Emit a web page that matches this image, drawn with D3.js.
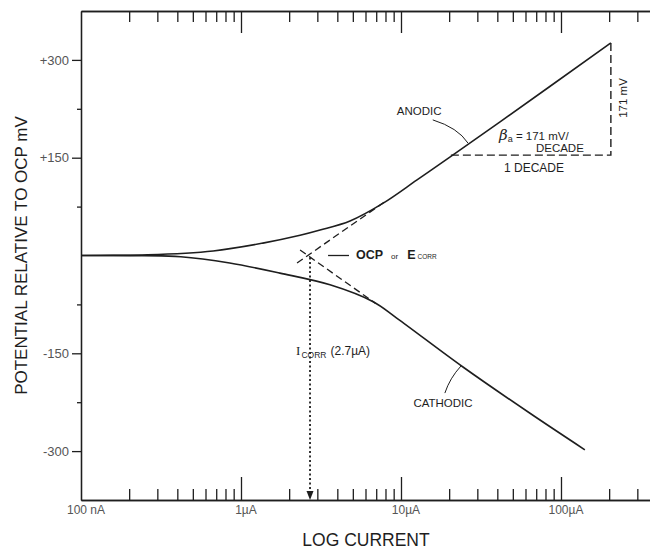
<!DOCTYPE html>
<html>
<head>
<meta charset="utf-8">
<script src="https://cdn.jsdelivr.net/npm/d3@7"></script>
<style>
  body { margin: 0; background: #fff; }
  svg { display: block; font-family: "Liberation Sans", Arial, sans-serif; }
</style>
</head>
<body>
<script>
// Values (current in A, potential in mV vs OCP).
const anodicI = [1e-7, 2.6e-7, 6.7e-7, 1.37e-6, 2.34e-6, 3.12e-6, 4.8e-6, 7.7e-6, 1.26e-5, 2.02e-5, 4.16e-5, 2.05e-4];
const anodicE = [0, 1, 7, 19, 31, 39, 53, 80, 116, 151, 205, 326];
const cathodicI = [1e-7, 4.2e-7, 8.5e-7, 1.75e-6, 3.6e-6, 6.7e-6, 9.4e-6, 2.44e-5, 6.4e-5, 1.41e-4];
const cathodicE = [0, -2, -11.5, -27, -45, -71, -96, -171, -242, -298];
// Tafel extrapolations (dashed) back to the crossing point.
const anodicTafelI = [2.24e-6, 8.2e-6];
const anodicTafelE = [-11.5, 85];
const cathodicTafelI = [2.34e-6, 6.9e-6];
const cathodicTafelE = [8.4, -73];
const icorr = 2.7e-6;
// One-decade slope triangle.
const decadeI = [2.05e-5, 2.05e-4];
const decadeE = [154, 326];
// Axis ticks.
const majorCurrents = [1e-7, 1e-6, 1e-5, 1e-4];
const currentLabels = ["100 nA", "1\u00b5A", "10\u00b5A", "100\u00b5A"];
const majorPotentials = [-300, -150, 150, 300];
const minorPotentials = [-225, -75, 75, 225];
const potentialLabels = ["-300", "-150", "+150", "+300"];

const width = 650, height = 549;
const ink = "#1e1e1e";
const gray = "#555";

const svg = d3.select("body").append("svg")
  .attr("width", width)
  .attr("height", height);

const x = d3.scaleLog().domain([1e-7, 3.6e-4]).range([81, 650]);
const y = d3.scaleLinear().domain([-375, 375]).range([500, 11]);

/**
 * Axes: frame lines come from the axis domains, ticks point inward on top/bottom.
 */
const allTicks = x.ticks();
const minorTicks = allTicks.filter(t => !majorCurrents.some(m => Math.abs(m - t) / m < 1e-6));

const drawAxis = function (axis, tx, ty) {
  const g = svg.append("g")
    .attr("transform", "translate(" + tx + "," + ty + ")")
    .call(axis);
  g.selectAll("path, line").attr("stroke", ink).attr("stroke-width", 1.3);
  return g;
};

// top
drawAxis(d3.axisBottom(x).tickValues(minorTicks).tickSize(11).tickSizeOuter(0).tickFormat(""), 0, y(375));
drawAxis(d3.axisBottom(x).tickValues(majorCurrents.slice(1)).tickSize(22).tickSizeOuter(0).tickFormat(""), 0, y(375));
// bottom
drawAxis(d3.axisTop(x).tickValues(minorTicks).tickSize(11).tickSizeOuter(0).tickFormat(""), 0, y(-375));
drawAxis(d3.axisTop(x).tickValues(majorCurrents.slice(1)).tickSize(23).tickSizeOuter(0).tickFormat(""), 0, y(-375));

svg.append("g").selectAll("text").data(majorCurrents)
  .enter().append("text")
  .attr("x", d => x(d) + 5)
  .attr("y", 514)
  .attr("text-anchor", "middle")
  .attr("font-size", 12)
  .attr("fill", gray)
  .text((d, i) => currentLabels[i]);

// left
drawAxis(d3.axisLeft(y).tickValues(minorPotentials).tickSize(4).tickSizeOuter(0).tickFormat(""), x(1e-7), 0);
const left = drawAxis(d3.axisLeft(y).tickValues(majorPotentials).tickSize(9).tickSizeOuter(0)
  .tickPadding(3).tickFormat((d, i) => potentialLabels[i]), x(1e-7), 0);
left.attr("font-size", 13).attr("font-family", "Liberation Sans, Arial, sans-serif");
left.selectAll("text").attr("fill", gray);

// axis titles
svg.append("text")
  .attr("x", 366).attr("y", 546)
  .attr("text-anchor", "middle")
  .attr("font-size", 17.5)
  .attr("fill", ink)
  .text("LOG CURRENT");
svg.append("text")
  .attr("transform", "translate(27," + y(0) + ") rotate(-90)")
  .attr("text-anchor", "middle")
  .attr("font-size", 17)
  .attr("fill", ink)
  .text("POTENTIAL RELATIVE TO OCP mV");

/**
 * Curves.
 */
const curve = d3.line()
  .x(d => x(d[0]))
  .y(d => y(d[1]))
  .curve(d3.curveCatmullRom.alpha(0.5));
const straight = d3.line().x(d => x(d[0])).y(d => y(d[1]));

svg.append("path")
  .attr("d", curve(d3.zip(anodicI, anodicE)))
  .attr("fill", "none").attr("stroke", ink).attr("stroke-width", 1.6);
svg.append("path")
  .attr("d", curve(d3.zip(cathodicI, cathodicE)))
  .attr("fill", "none").attr("stroke", ink).attr("stroke-width", 1.6);

[[anodicTafelI, anodicTafelE], [cathodicTafelI, cathodicTafelE]].forEach(function (t) {
  svg.append("path")
    .attr("d", straight(d3.zip(t[0], t[1])))
    .attr("fill", "none").attr("stroke", ink).attr("stroke-width", 1.3)
    .attr("stroke-dasharray", "7,4");
});

// slope triangle
svg.append("path")
  .attr("d", straight([[decadeI[0], decadeE[0]], [decadeI[1], decadeE[0]], [decadeI[1], decadeE[1]]]))
  .attr("fill", "none").attr("stroke", ink).attr("stroke-width", 1.4)
  .attr("stroke-dasharray", "8,4");

// Icorr dotted drop line with arrow
svg.append("line")
  .attr("x1", x(icorr)).attr("x2", x(icorr))
  .attr("y1", y(-3)).attr("y2", y(-375) - 7)
  .attr("stroke", ink).attr("stroke-width", 1.8)
  .attr("stroke-dasharray", "2,2.5");
svg.append("path")
  .attr("d", "M" + (x(icorr) - 3.5) + "," + (y(-375) - 9) + "L" + (x(icorr) + 3.5) + "," + (y(-375) - 9) +
    "L" + x(icorr) + "," + y(-375) + "Z")
  .attr("fill", ink);

/**
 * Annotations, anchored in data units.
 */
const label = function (I, E, str, size, anchor) {
  return svg.append("text")
    .attr("x", x(I)).attr("y", y(E))
    .attr("text-anchor", anchor || "start")
    .attr("font-size", size)
    .attr("fill", ink)
    .text(str);
};
const leader = function (p0, p1, p2) {
  svg.append("path")
    .attr("d", "M" + x(p0[0]) + "," + y(p0[1]) + "Q" + x(p1[0]) + "," + y(p1[1]) + " " + x(p2[0]) + "," + y(p2[1]))
    .attr("fill", "none").attr("stroke", ink).attr("stroke-width", 1);
};

label(1.30e-5, 215.5, "ANODIC", 11.5, "middle");
leader([1.58e-5, 208], [2.27e-5, 196], [2.62e-5, 172.5]);
label(1.83e-5, -232, "CATHODIC", 11.5, "middle");
leader([1.88e-5, -211], [2.02e-5, -188], [2.37e-5, -169.5]);

const beta = label(4.1e-5, 177.5, "", 11.5);
beta.append("tspan").attr("font-family", "DejaVu Serif, serif").attr("font-style", "italic").attr("font-size", 15).text("\u03b2");
beta.append("tspan").attr("font-size", 9).attr("dy", 2).text("a");
beta.append("tspan").attr("dy", -2).text(" = 171 mV/");
label(1.39e-4, 158, "DECADE", 11.5, "end");
label(6.78e-5, 128, "1  DECADE", 12, "middle");
svg.append("text")
  .attr("transform", "translate(" + x(2.59e-4) + "," + y(241.6) + ") rotate(-90)")
  .attr("text-anchor", "middle")
  .attr("font-size", 11.5)
  .attr("fill", ink)
  .text("171 mV");

svg.append("line")
  .attr("x1", x(3.5e-6)).attr("x2", x(4.73e-6))
  .attr("y1", y(0)).attr("y2", y(0))
  .attr("stroke", ink).attr("stroke-width", 1.3);
const ocp = label(5.23e-6, -5.4, "", 12.5);
ocp.append("tspan").attr("font-weight", "bold").text("OCP");
ocp.append("tspan").attr("font-size", 8).attr("dx", 8).text("or");
ocp.append("tspan").attr("font-weight", "bold").attr("dx", 9).text("E");
ocp.append("tspan").attr("font-size", 6.5).attr("dx", 2).text("CORR");

const ic = label(2.21e-6, -152.6, "", 12);
ic.append("tspan").attr("font-family", "Liberation Serif, serif").attr("font-size", 13).text("I");
ic.append("tspan").attr("font-size", 8.5).attr("dx", 1).attr("dy", 3).text("CORR");
ic.append("tspan").attr("dx", 4).attr("dy", -3).text("(2.7\u00b5A)");
</script>
</body>
</html>
